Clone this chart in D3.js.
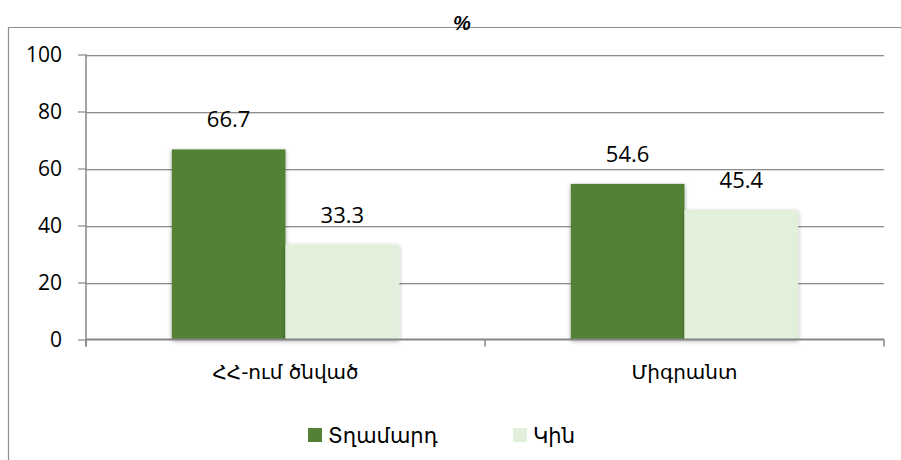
<!DOCTYPE html>
<html>
<head>
<meta charset="utf-8">
<script src="https://cdn.jsdelivr.net/npm/d3@7"></script>
<style>
  body { margin: 0; background: #fff; }
  svg { display: block; }
</style>
</head>
<body>
<div id="chart"></div>
<script>
// data
var categories = ["ՀՀ-ում ծնված", "Միգրանտ"];
var seriesNames = ["Տղամարդ", "Կին"];
var men = [66.7, 54.6];
var women = [33.3, 45.4];
var yTicks = [0, 20, 40, 60, 80, 100];
var title = "%";

var colors = ["#538135", "#E2EFDA"];
var W = 901, H = 460;
var plot = { left: 86, right: 884, top: 54.5, bottom: 339.5 };

var svg = d3.select("#chart").append("svg")
    .attr("width", W)
    .attr("height", H);

// soft shadow for the bars
var defs = svg.append("defs");
var f = defs.append("filter").attr("id", "shadow")
    .attr("x", "-10%").attr("y", "-10%").attr("width", "120%").attr("height", "120%");
f.append("feDropShadow")
    .attr("dx", 0).attr("dy", 1.5).attr("stdDeviation", 2)
    .attr("flood-color", "#000").attr("flood-opacity", 0.35);

// chart frame (left + top only visible)
svg.append("path")
    .attr("d", "M8.5," + H + "V27.5H" + W)
    .attr("fill", "none")
    .attr("stroke", "#8e8e8e")
    .attr("stroke-width", 1.2);

svg.append("text")
    .attr("x", 462).attr("y", 30)
    .attr("text-anchor", "middle")
    .style("font-family", "'Liberation Sans', Arial, sans-serif")
    .style("font-weight", "bold").style("font-style", "italic")
    .style("font-size", "20px")
    .text(title);

var y = d3.scaleLinear().domain([0, 100]).range([plot.bottom, plot.top]);
var x0 = d3.scaleBand().domain(categories)
    .range([plot.left, plot.right])
    .paddingInner(0.43).paddingOuter(0.215);
var x1 = d3.scaleBand().domain(seriesNames).range([0, x0.bandwidth()]);

// gridlines
var grid = svg.append("g");
grid.selectAll("line.g2").data(yTicks.filter(function(d) { return d > 0; }))
  .enter().append("line")
    .attr("x1", plot.left).attr("x2", plot.right)
    .attr("y1", function(d) { return Math.round(y(d)) + 1.5; })
    .attr("y2", function(d) { return Math.round(y(d)) + 1.5; })
    .attr("stroke", "#dcdcdc").attr("stroke-width", 1);
grid.selectAll("line.g1").data(yTicks.filter(function(d) { return d > 0; }))
  .enter().append("line")
    .attr("x1", plot.left).attr("x2", plot.right)
    .attr("y1", function(d) { return Math.round(y(d)) + 0.5; })
    .attr("y2", function(d) { return Math.round(y(d)) + 0.5; })
    .attr("stroke", "#8c8c8c").attr("stroke-width", 1);

// y axis
var yAxis = d3.axisLeft(y).tickValues(yTicks).tickSize(8).tickPadding(16);
var ya = svg.append("g")
    .attr("transform", "translate(" + plot.left + ",0)")
    .call(yAxis);
ya.select(".domain").attr("stroke", "#868686").attr("stroke-width", 1.5)
    .attr("d", "M0," + (plot.top) + "V" + (plot.bottom + 7));
ya.selectAll(".tick line").attr("stroke", "#868686").attr("stroke-width", 1.2);
ya.selectAll(".tick text")
    .style("font-family", "'Open Sans', sans-serif")
    .style("font-size", "21px")
    .attr("fill", "#000");

// bars
var groups = svg.append("g").selectAll("g")
  .data(categories)
  .enter().append("g")
    .attr("transform", function(d) { return "translate(" + x0(d) + ",0)"; });

var rows = function(d, i) {
  return [
    { name: seriesNames[0], value: men[i], c: colors[0] },
    { name: seriesNames[1], value: women[i], c: colors[1] }
  ];
};

groups.selectAll("rect")
  .data(rows)
  .enter().append("rect")
    .attr("x", function(d) { return x1(d.name); })
    .attr("y", function(d) { return y(d.value); })
    .attr("width", x1.bandwidth())
    .attr("height", function(d) { return y(0) - y(d.value); })
    .attr("fill", function(d) { return d.c; })
    .attr("filter", "url(#shadow)");

groups.selectAll("text")
  .data(rows)
  .enter().append("text")
    .attr("x", function(d) { return x1(d.name) + x1.bandwidth() / 2; })
    .attr("y", function(d) { return y(d.value) - 22; })
    .attr("text-anchor", "middle")
    .style("font-family", "'Open Sans', sans-serif")
    .style("font-size", "22px")
    .text(function(d) { return d.value.toFixed(1); });

// x axis
var xa = svg.append("g");
xa.append("line")
    .attr("x1", plot.left).attr("x2", plot.right)
    .attr("y1", plot.bottom).attr("y2", plot.bottom)
    .attr("stroke", "#868686").attr("stroke-width", 2);
var xTickPos = [plot.left].concat(categories.map(function(c) { return x0(c) + x0.bandwidth() + x0.step() * x0.paddingInner() / 2; }));
xTickPos[xTickPos.length - 1] = plot.right;
xa.selectAll("line.t").data(xTickPos).enter().append("line")
    .attr("x1", function(d) { return d; }).attr("x2", function(d) { return d; })
    .attr("y1", plot.bottom).attr("y2", plot.bottom + 7)
    .attr("stroke", "#868686").attr("stroke-width", 1.5);
xa.selectAll("text").data(categories).enter().append("text")
    .attr("x", function(d) { return x0(d) + x0.bandwidth() / 2; })
    .attr("y", 379)
    .attr("text-anchor", "middle")
    .style("font-family", "'DejaVu Sans', sans-serif")
    .style("font-size", "20px")
    .text(function(d) { return d; });

// legend
var legendX = [308, 513];
var lg = svg.append("g").selectAll("g")
  .data(seriesNames)
  .enter().append("g")
    .attr("transform", function(d, i) { return "translate(" + legendX[i] + ",428)"; });
lg.append("rect")
    .attr("width", 14).attr("height", 14)
    .attr("fill", function(d, i) { return colors[i]; });
lg.append("text")
    .attr("x", 20).attr("y", 15)
    .style("font-family", "'DejaVu Sans', sans-serif")
    .style("font-size", "21px")
    .text(function(d) { return d; });
</script>
</body>
</html>
